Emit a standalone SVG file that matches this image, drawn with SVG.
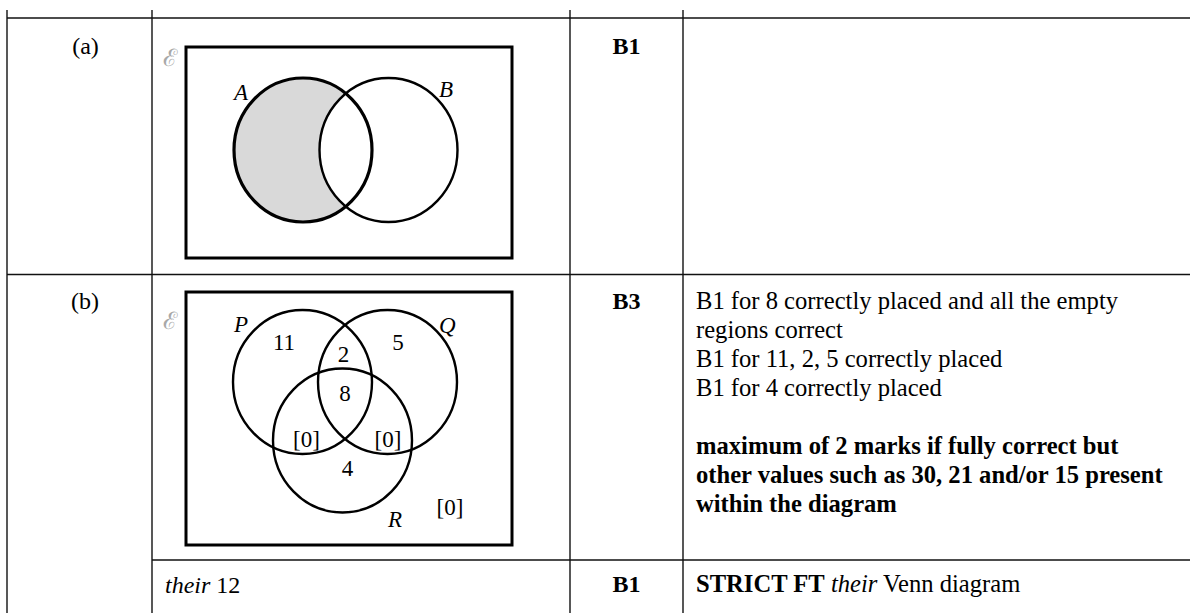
<svg xmlns="http://www.w3.org/2000/svg" width="1190" height="613" viewBox="0 0 1190 613">
<style>
.grid{stroke:#111;stroke-width:1.4;fill:none}
.box{fill:none;stroke:#000;stroke-width:3}
.circ{fill:none;stroke:#000;stroke-width:2.4}
.circA{fill:none;stroke:#000;stroke-width:3.2}
text{font-family:'Liberation Serif','DejaVu Serif',serif;fill:#000}
.t{font-size:24px}
.w{font-size:24.6px}
.b{font-weight:bold}
.i{font-style:italic}
.c{text-anchor:middle}
.v{font-size:23px}
.lbl{font-size:23px;font-style:italic}
.u{font-size:24px;fill:#a8a8a8}
</style>
<rect width="1190" height="613" fill="#fff"/>
<g id="grid">
<line class="grid" x1="7" y1="18" x2="1190" y2="18"/>
<line class="grid" x1="7" y1="274.5" x2="1190" y2="274.5"/>
<line class="grid" x1="152" y1="560" x2="1190" y2="560"/>
<line class="grid" x1="7" y1="10" x2="7" y2="613"/>
<line class="grid" x1="152" y1="10" x2="152" y2="613"/>
<line class="grid" x1="570" y1="10" x2="570" y2="613"/>
<line class="grid" x1="683" y1="10" x2="683" y2="613"/>
</g>
<g id="row-a-labels">
<text class="t c" x="85.5" y="54">(a)</text>
<text class="t b c" x="626.5" y="54">B1</text>
</g>
<g id="venn-a">
<rect class="box" x="186" y="47" width="326" height="211"/>
<text class="u" x="163" y="66">ℰ</text>
<path d="M345.75,93.5 A69,72 0 1 0 345.75,206.5 A69,72 0 0 1 345.75,93.5 Z" fill="#d9d9d9"/>
<ellipse class="circA" cx="303" cy="150" rx="69" ry="72"/>
<ellipse class="circ" cx="388.5" cy="150" rx="69" ry="72"/>
<text class="lbl" x="234" y="100">A</text>
<text class="lbl" x="439" y="97">B</text>
</g>
<g id="row-b-labels">
<text class="t c" x="85" y="309">(b)</text>
<text class="t b c" x="626.5" y="309">B3</text>
<text class="w" x="696" y="309">B1 for 8 correctly placed and all the empty</text>
<text class="w" x="696" y="338">regions correct</text>
<text class="w" x="696" y="367">B1 for 11, 2, 5 correctly placed</text>
<text class="w" x="696" y="396">B1 for 4 correctly placed</text>
<text class="w b" x="696" y="454">maximum of 2 marks if fully correct but</text>
<text class="w b" x="696" y="483">other values such as 30, 21 and/or 15 present</text>
<text class="w b" x="696" y="512">within the diagram</text>
</g>
<g id="venn-b">
<rect class="box" x="186" y="292" width="326" height="253"/>
<text class="u" x="163" y="329">ℰ</text>
<ellipse class="circ" cx="302.5" cy="382" rx="69.5" ry="72"/>
<ellipse class="circ" cx="387.5" cy="382" rx="69.5" ry="72"/>
<ellipse class="circ" cx="342.5" cy="440.5" rx="69.5" ry="72"/>
<text class="lbl" x="234" y="332">P</text>
<text class="lbl" x="439" y="333">Q</text>
<text class="lbl" x="388" y="527">R</text>
<text class="v c" x="284" y="350">11</text>
<text class="v c" x="343.5" y="362">2</text>
<text class="v c" x="398" y="350">5</text>
<text class="v c" x="345" y="401">8</text>
<text class="v c" x="306.5" y="447">[0]</text>
<text class="v c" x="388" y="447">[0]</text>
<text class="v c" x="347.5" y="476">4</text>
<text class="v c" x="450" y="515">[0]</text>
</g>
<g id="row-c">
<text class="t" x="165" y="593"><tspan class="i">their</tspan> 12</text>
<text class="t b c" x="626.5" y="592">B1</text>
<text class="w" x="696" y="592"><tspan class="b">STRICT FT</tspan> <tspan class="i">their</tspan> Venn diagram</text>
</g>
</svg>
